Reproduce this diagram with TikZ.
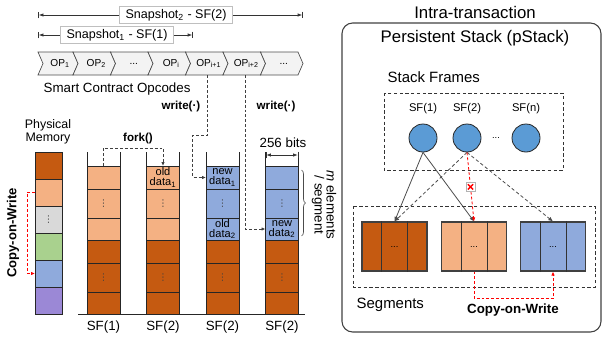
\documentclass[tikz,border=0pt]{standalone}
\usepackage{fontspec}
\setmainfont{Liberation Sans}
\newfontfamily\symfont{DejaVu Sans}
\usetikzlibrary{arrows.meta,positioning,calc,decorations.pathreplacing}
\definecolor{rust}{RGB}{197,90,17}
\definecolor{peach}{RGB}{244,177,131}
\definecolor{steel}{RGB}{143,170,220}
\definecolor{ash}{RGB}{217,217,217}
\definecolor{sage}{RGB}{169,209,142}
\definecolor{lilac}{RGB}{155,136,214}
\definecolor{frameblue}{RGB}{91,155,213}
\definecolor{chev}{RGB}{243,243,243}
\newcommand{\tsize}[2]{\fontsize{#1}{#2}\selectfont}
\begin{document}
\begin{tikzpicture}[x=0.75pt,y=-0.75pt,
  lbl/.style={font=\tsize{10}{12}},
  big/.style={font=\tsize{12.6}{15}},
  mid/.style={font=\tsize{11.2}{13}},
  small/.style={font=\tsize{8.4}{10}},
  hd/.style={font=\tsize{8.7}{10}\bfseries},
  cell/.style={draw=black!85,line width=0.6pt,anchor=north west,inner sep=0pt,outer sep=0pt,minimum width=24.75pt},
  celltxt/.style={align=center,inner sep=0pt,font=\tsize{8.3}{7.6}},
  dots/.style={inner sep=0pt,text=black!75,font=\symfont\tsize{7}{7}},
  opshape/.style={draw=black!70,fill=chev,line width=0.5pt},
  optxt/.style={inner sep=0pt,font=\tsize{7.6}{9}},
  snapbox/.style={draw=black!25,fill=white,inner xsep=4.5pt,inner ysep=0pt,minimum height=12.75pt,font=\tsize{9.4}{11}},
  span/.style={draw=black!80,line width=0.5pt,|<->|,>={Latex[length=3.5pt,width=2.5pt]}},
  conn/.style={draw=black!75,line width=0.6pt,dash pattern=on 2.2pt off 1.5pt,-{Latex[length=3pt,width=2.6pt]}},
  cow/.style={draw=red,line width=0.6pt,dash pattern=on 2.2pt off 1.5pt,-{Latex[length=3pt,width=2.6pt]}},
  solidarr/.style={draw=black!70,line width=0.6pt,-{Latex[length=3.5pt,width=3pt]}},
  dasharr/.style={draw=black!70,line width=0.6pt,dash pattern=on 2.5pt off 1.8pt,-{Latex[length=3.5pt,width=3pt]}},
  dashbox/.style={draw=black!80,line width=0.6pt,dash pattern=on 2.5pt off 1.8pt},
  frame/.style={circle,draw=black!85,fill=frameblue,line width=0.6pt,minimum size=21pt,inner sep=0pt},
  seg/.style={draw=black!75,line width=0.8pt,minimum width=48.75pt,minimum height=36.75pt,inner sep=0pt},
  wall/.style={draw=black!85,line width=0.6pt}]
\useasboundingbox (0,0) rectangle (603,339);

% snapshot spans
\coordinate (s2a) at (38,15); \coordinate (s2b) at (303,15);
\coordinate (s1a) at (38,35); \coordinate (s1b) at (193,35);
\draw[span] (s2a) -- (s2b);
\draw[span] (s1a) -- (s1b);
\node[snapbox] (snap2) at (176,15) {Snapshot\textsubscript{2} - SF(2)};
\node[snapbox] (snap1) at (117,35) {Snapshot\textsubscript{1} - SF(1)};

% opcode chevrons
\foreach \i/\op in {0/{OP\textsubscript{1}},1/{OP\textsubscript{2}},2/{...},3/{OP\textsubscript{i}},4/{OP\textsubscript{i+1}},5/{OP\textsubscript{i+2}},6/{...}}{
  \pgfmathsetmacro\xa{ifthenelse(\i==0,38,73+37.5*(\i-1))}
  \pgfmathsetmacro\xb{78+37.5*\i}
  \draw[opshape] (\xa,52) -- (\xb-5,52) -- (\xb,63.5) -- (\xb-5,75) -- (\xa,75) -- (\xa+5,63.5) -- cycle;
  \node[optxt] (op\i) at ({(\xa+\xb)/2+2},63.5) {\op};
  \coordinate (op\i-b) at ({(\xa+\xb)/2+1},75);
}
\node[lbl,anchor=west] (opc) at (39,89) {Smart Contract Opcodes};

% physical memory
\node[align=center,font=\tsize{9.3}{9.75}] (pmlbl) at (48,132) {Physical\\Memory};
\foreach \k/\col in {1/rust,2/peach,3/ash,4/sage,5/steel,6/lilac}
  \node[cell,fill=\col,minimum width=20.25pt,minimum height=20.25pt] (pm\k) at (35,{152+27*(\k-1)}) {};
\node[dots] at (pm3) {⋮};
\draw[cow] (pm2.west) -- ++(-8,0) |- (pm5.west);
\node[font=\tsize{9.8}{11}\bfseries,rotate=90] (cowl) at (13,233) {Copy-on-Write};

% stack frames in memory
\foreach \xx/\up [count=\n] in {87/peach,146.5/peach,206/steel,265.5/steel}{
  \draw[wall] (\xx,152) -- (\xx,166) (\xx+33,152) -- (\xx+33,166);
  \foreach \r/\y/\h in {1/166/17.25,2/189/21.75,3/218/16.5}
    \node[cell,fill=\up,minimum height=\h pt] (st\n-\r) at (\xx,\y) {};
  \foreach \r/\y/\h in {4/240/17.25,5/263/21.75,6/292/16.5}
    \node[cell,fill=rust,minimum height=\h pt] (st\n-\r) at (\xx,\y) {};
  \node[dots] at (st\n-2) {⋮};
  \node[dots] at (st\n-5) {⋮};
}
\draw[wall] (78,314) -- (305,314);
\node[celltxt] at (st2-1) {old\\data\textsubscript{1}};
\node[celltxt] at (st3-1) {new\\data\textsubscript{1}};
\node[celltxt] at (st3-3) {old\\data\textsubscript{2}};
\node[celltxt] at (st4-3) {new\\data\textsubscript{2}};
\foreach \n/\name in {1/SF(1),2/SF(2),3/SF(2),4/SF(2)}
  \node[lbl] (sfl\n) at ($(st\n-6.south)+(0,13)$) {\name};

% fork and writes
\draw[conn] (st1-1.north) -- ++(0,-18) -| (st2-1.north);
\node[hd] (fork) at (138,138) {fork()};
\draw[conn] (op4-b) -- ++(0,60) -- ++(-15,0) |- (st3-1.west);
\draw[conn] (op5-b) |- (st4-3.west);
\node[hd,anchor=east] (w1) at (205,106) {write(·)};
\node[hd,anchor=west] (w2) at (252,106) {write(·)};

% word width and segment size
\node[lbl] (bits) at (283,143) {256 bits};
\draw[span] ($(st4-1.north west)+(0,-11)$) -- ($(st4-1.north east)+(0,-11)$);
\draw[draw=black!70,line width=0.5pt,decorate,decoration={brace,amplitude=3pt}]
  ($(st4-1.north east)+(3,4)$) -- ($(st4-3.south east)+(3,-4)$);
\node[rotate=-90,align=center,font=\tsize{10}{9}] (msz) at (324,205) {\textit{m} elements\\/ segment};

% pStack
\node[big] (intra) at (475,12) {Intra-transaction};
\draw[draw=black!75,line width=0.8pt,rounded corners=8pt] (342,23) rectangle (601,332);
\node[big] (pst) at (475,38) {Persistent Stack (pStack)};
\node[mid,anchor=west] (sfr) at (383,77) {Stack Frames};
\draw[dashbox] (384,93) rectangle (563,170);
\node[frame] (sf1) at (423,138) {};
\node[frame] (sf2) at (467,138) {};
\node[frame] (sfn) at (526,138) {};
\node[small] at (423,109) {SF(1)};
\node[small] at (467,109) {SF(2)};
\node[small] at (526,109) {SF(n)};
\node[inner sep=0pt,font=\tsize{7}{7}] at (496,138) {...};

\draw[dashbox] (353,206) rectangle (595,287);
\node[seg,fill=rust] (seg1) at (394.5,246.5) {};
\node[seg,fill=peach] (seg2) at (474,246.5) {};
\node[seg,fill=steel] (seg3) at (553,246.5) {};
\foreach \s in {1,2,3}{
  \draw[draw=black!80,line width=0.7pt] ($(seg\s.north west)+(20,0)$) -- ($(seg\s.south west)+(20,0)$)
    ($(seg\s.north west)+(46,0)$) -- ($(seg\s.south west)+(46,0)$);
  \node[inner sep=0pt,font=\tsize{7}{7}] at (seg\s) {...};
}
\draw[solidarr] (sf1.south) -- (seg1.north);
\draw[solidarr] (sf1.south) -- (seg2.north);
\draw[dasharr] (sf2.south) -- (seg1.north);
\draw[dasharr] (sf2.south) -- (seg3.north);
\draw[cow] (sf2.south) -- (seg2.north);
\node[draw=black!30,fill=white,minimum size=7pt,inner sep=0pt] (stop) at ($(sf2.south)!0.5!(seg2.north)$) {};
\draw[red,line width=1.1pt] ($(stop.center)+(-2.6,-2.6)$) -- ($(stop.center)+(2.6,2.6)$)
  ($(stop.center)+(-2.6,2.6)$) -- ($(stop.center)+(2.6,-2.6)$);
\draw[cow] (seg2.south) -- ++(0,27) -| (seg3.south);
\node[mid,anchor=west] (segl) at (352,305) {Segments};
\node[font=\tsize{10}{12}\bfseries] (cowr) at (513,310) {Copy-on-Write};
\end{tikzpicture}
\end{document}
